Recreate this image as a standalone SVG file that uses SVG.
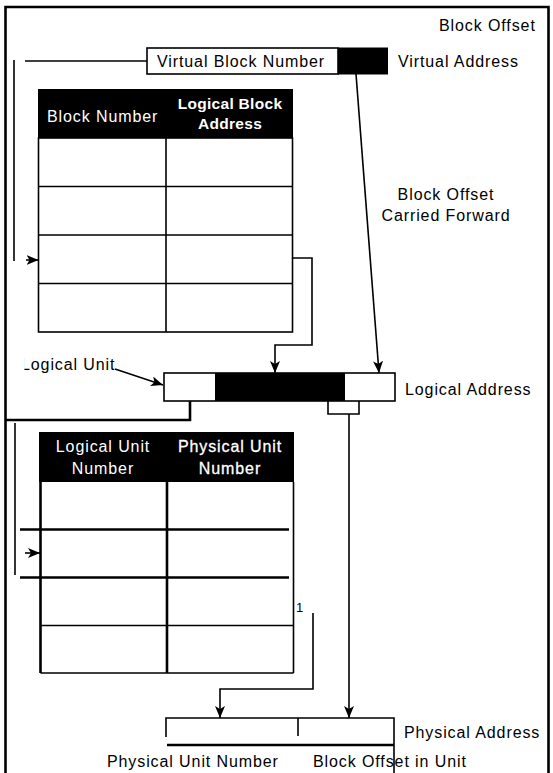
<svg xmlns="http://www.w3.org/2000/svg" width="553" height="773" viewBox="0 0 553 773">
  <style>
    text { font-family: "Liberation Sans", Arial, sans-serif; font-size: 16px; letter-spacing: 0.9px; fill: #000; }
    .hd { fill: #fff; }
    .hdb { fill: #fff; font-weight: bold; font-size: 15.5px; letter-spacing: 0.3px; }
    .mid { text-anchor: middle; }
    .ln { fill: none; stroke: #000; stroke-width: 1.6; }
    .thick { fill: none; stroke: #000; stroke-width: 2.6; }
    .box { fill: #fff; stroke: #000; stroke-width: 1.6; }
    .blk { fill: #000; }
    .arr { marker-end: url(#ah); }
  </style>
  <defs>
    <marker id="ah" viewBox="0 0 12 10" refX="12" refY="5" markerWidth="12" markerHeight="10" markerUnits="userSpaceOnUse" orient="auto">
      <path d="M0,0 L12,5 L0,10 L3,5 z" fill="#000"/>
    </marker>
    <clipPath id="cutL">
      <rect x="24.5" y="350" width="100" height="30"/>
    </clipPath>
  </defs>

  <rect width="553" height="773" fill="#fff"/>

  <!-- frame -->
  <path class="thick" d="M5.5,773 V7 H548.5 V773" stroke-width="3"/>

  <!-- virtual address -->
  <g id="virtual-address">
    <rect class="box" x="147" y="48" width="191" height="26"/>
    <rect class="blk" x="338" y="47.5" width="50" height="27"/>
    <text x="157" y="67">Virtual Block Number</text>
    <text x="439" y="31">Block Offset</text>
    <text x="398" y="67">Virtual Address</text>
  </g>

  <!-- block table -->
  <g id="block-table">
    <rect class="blk" x="38" y="89" width="255" height="49"/>
    <text class="hd" x="47" y="122">Block Number</text>
    <text class="hdb mid" x="230" y="109">Logical Block</text>
    <text class="hdb mid" x="230" y="129">Address</text>
    <rect class="box" x="38.5" y="138" width="254" height="194"/>
    <path class="ln" d="M166,138 V332 M38.5,186.5 H292.5 M38.5,235 H292.5 M38.5,283.5 H292.5"/>
  </g>

  <!-- offset label -->
  <g id="offset-label">
    <text class="mid" x="446" y="200">Block Offset</text>
    <text class="mid" x="446" y="221">Carried Forward</text>
  </g>

  <!-- logical address -->
  <g id="logical-address">
    <rect class="box" x="164" y="373" width="231" height="28"/>
    <rect class="blk" x="215" y="373" width="130" height="28"/>
    <text x="405" y="395">Logical Address</text>
    <text x="21" y="370" clip-path="url(#cutL)">Logical Unit</text>
  </g>

  <!-- unit table -->
  <g id="unit-table">
    <rect class="blk" x="39" y="432" width="255" height="50"/>
    <text class="hd mid" x="103" y="452">Logical Unit</text>
    <text class="hd mid" x="103" y="474">Number</text>
    <text class="hd mid" x="230" y="452" stroke="#fff" stroke-width="0.3">Physical Unit</text>
    <text class="hd mid" x="230" y="474" stroke="#fff" stroke-width="0.3">Number</text>
    <path class="thick" d="M40.5,482 V673 M167,482 V673" stroke-width="2"/>
    <path class="ln" d="M293.5,482 V673 M40.5,673 H293.5 M40.5,625.5 H293.5"/>
    <text x="296" y="612" style="font-size:13px;letter-spacing:0">1</text>
  </g>

  <!-- physical address -->
  <g id="physical-address">
    <path class="ln" d="M166,737 V718 H394 V773 M298,718 V736" stroke-width="1.8"/>
    <path class="thick" d="M167,745 H394"/>
    <text x="404" y="738">Physical Address</text>
    <text x="107" y="767">Physical Unit Number</text>
    <text x="313" y="767">Block Offset in Unit</text>
  </g>

  <!-- connectors -->
  <g id="connectors">
    <!-- block number lookup -->
    <path class="ln" d="M147,61 H25"/>
    <path class="ln" d="M14,60 V261" stroke-width="2"/>
    <path class="ln arr" d="M26,260 H38.5"/>
    <!-- logical block address into logical address -->
    <path class="ln arr" d="M293,258 H312 V345 H275 V373"/>
    <!-- block offset carried forward -->
    <path class="ln arr" d="M356,74 L379,373"/>
    <!-- logical unit pointer -->
    <path class="ln arr" d="M115,369 L163,385"/>
    <!-- logical unit lookup -->
    <path class="thick" d="M190,401 V420 H5.5"/>
    <path class="ln" d="M15,423 V575" stroke-width="2"/>
    <path class="ln arr" d="M25,553 H40"/>
    <path class="thick" d="M20,529.5 H289 M20,577.5 H289"/>
    <!-- block offset in unit -->
    <path class="ln" d="M328,401 V414 H359 V401"/>
    <path class="ln arr" d="M349,414 V718"/>
    <!-- physical unit number -->
    <path class="ln arr" d="M313,613 V689 H220 V718"/>
  </g>
</svg>
